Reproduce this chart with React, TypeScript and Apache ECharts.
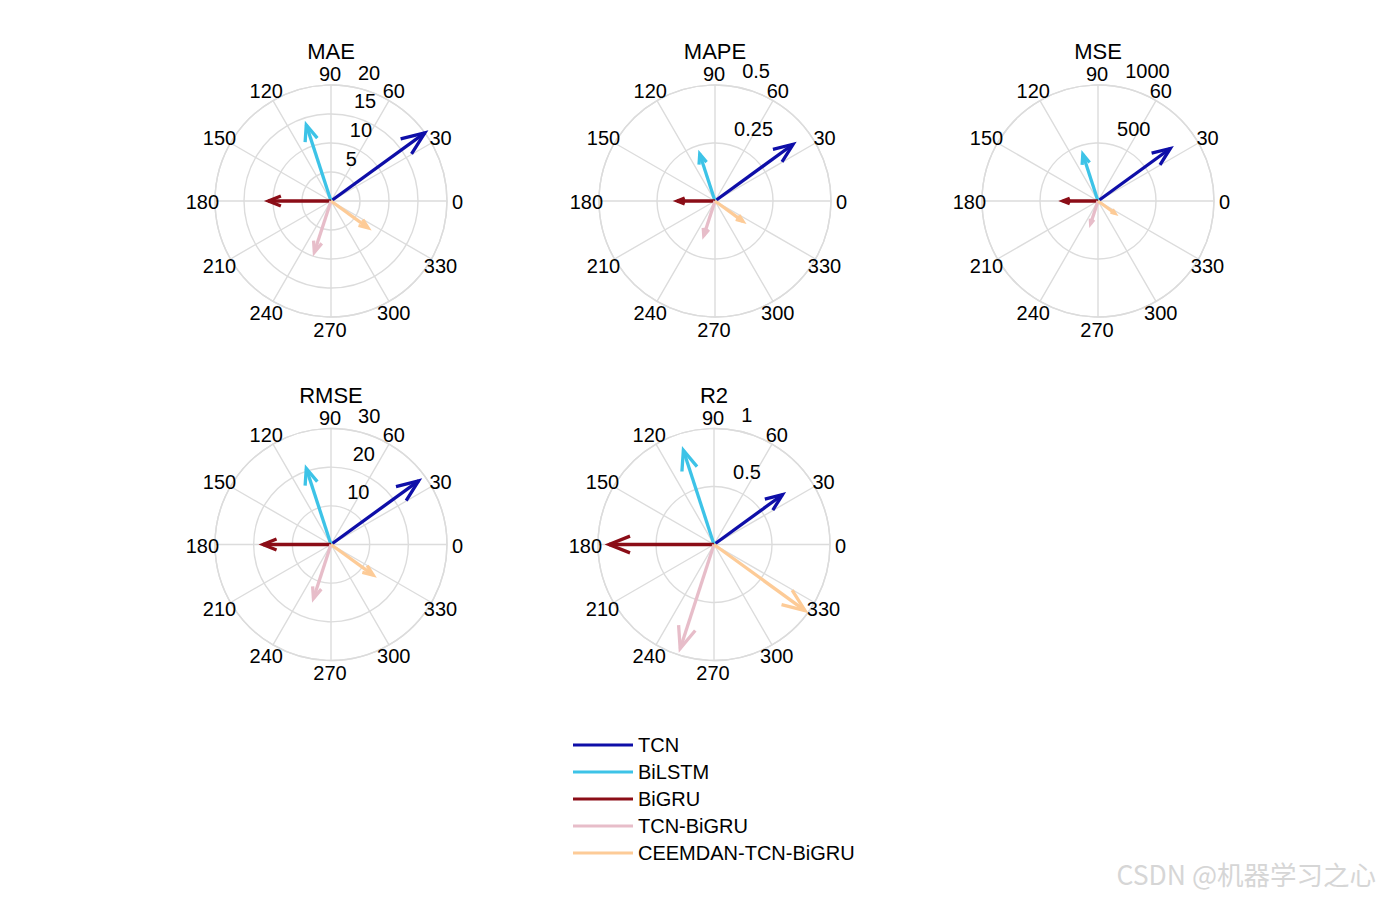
import React, { useEffect, useRef } from 'react';
import * as echarts from 'echarts';

// ---- data ----
const MODELS = ['TCN', 'BiLSTM', 'BiGRU', 'TCN-BiGRU', 'CEEMDAN-TCN-BiGRU'];
const MODEL_COLORS = ['#0e0ea8', '#3dc3e7', '#8b0d17', '#e7bdc9', '#fdcb97'];
const MODEL_ANGLES = [36, 108, 180, 252, 324];

const METRICS = ['MAE', 'MAPE', 'MSE', 'RMSE', 'R2'];
const MAE_VALUES = [20.0, 13.8, 10.8, 9.3, 7.9];
const MAPE_VALUES = [0.416, 0.213, 0.163, 0.157, 0.149];
const MSE_VALUES = [770, 423, 304, 206, 180];
const RMSE_VALUES = [28.0, 20.7, 17.6, 14.7, 13.5];
const R2_VALUES = [0.73, 0.855, 0.905, 0.944, 0.97];

const MAE_TICKS = [5, 10, 15, 20];
const MAPE_TICKS = [0.25, 0.5];
const MSE_TICKS = [500, 1000];
const RMSE_TICKS = [10, 20, 30];
const R2_TICKS = [0.5, 1];
const ANGLE_TICKS = [0, 30, 60, 90, 120, 150, 180, 210, 240, 270, 300, 330];

const METRIC_VALUES = [MAE_VALUES, MAPE_VALUES, MSE_VALUES, RMSE_VALUES, R2_VALUES];
const METRIC_TICKS = [MAE_TICKS, MAPE_TICKS, MSE_TICKS, RMSE_TICKS, R2_TICKS];

// ---- layout ----
const CENTERS = [
  [331, 201],
  [715, 201],
  [1098, 201],
  [331, 544.5],
  [714, 544.5],
];
const RADIUS = 116;
const FONT = '"Liberation Sans", Arial, Helvetica, sans-serif';
const GRID = '#dcdcdc';
const LABEL_SIZE = 20;

function arrowRender(params: any, api: any) {
  const r = api.value(0);
  const a = api.value(1);
  const o = api.coord([0, a]);
  const t = api.coord([r, a]);
  const dx = t[0] - o[0];
  const dy = t[1] - o[1];
  const bx = o[0] + 0.8 * dx;
  const by = o[1] + 0.8 * dy;
  const px = -dy * 0.08;
  const py = dx * 0.08;
  const color = api.visual('color');
  const style = { stroke: color, lineWidth: 3.3, fill: null, lineJoin: 'miter', lineCap: 'butt' };
  return {
    type: 'group',
    children: [
      { type: 'line', shape: { x1: o[0], y1: o[1], x2: t[0], y2: t[1] }, style },
      {
        type: 'polyline',
        shape: { points: [[bx + px, by + py], [t[0], t[1]], [bx - px, by - py]] },
        style,
      },
    ],
  };
}

function buildOption() {
  const polar: any[] = [];
  const angleAxis: any[] = [];
  const radiusAxis: any[] = [];
  const series: any[] = [];
  const graphic: any[] = [];

  METRICS.forEach((metric, i) => {
    const ticks = METRIC_TICKS[i];
    const rmax = ticks[ticks.length - 1];
    const rinc = ticks[0];
    const [cx, cy] = CENTERS[i];
    polar.push({ center: [cx, cy], radius: RADIUS });
    angleAxis.push({
      polarIndex: i,
      type: 'value',
      min: 0,
      max: 360,
      interval: 30,
      startAngle: 0,
      clockwise: false,
      axisLine: { show: true, lineStyle: { color: GRID, width: 1.4 } },
      axisTick: { show: false },
      axisLabel: { show: false },
      splitLine: { show: true, lineStyle: { color: GRID, width: 1.4 } },
    });
    radiusAxis.push({
      polarIndex: i,
      type: 'value',
      min: 0,
      max: rmax,
      interval: rinc,
      axisLine: { show: false },
      axisTick: { show: false },
      axisLabel: { show: false },
      splitLine: { show: true, lineStyle: { color: GRID, width: 1.4 } },
    });

    // angle labels at 1.1 * rmax
    series.push({
      type: 'custom',
      coordinateSystem: 'polar',
      polarIndex: i,
      silent: true,
      data: ANGLE_TICKS.map((a) => [rmax * 1.1, a]),
      renderItem: (params: any, api: any) => {
        const p = api.coord([api.value(0), api.value(1)]);
        return {
          type: 'text',
          x: p[0] - 1,
          y: p[1] + 1,
          style: {
            text: String(api.value(1)),
            fill: '#000',
            fontSize: LABEL_SIZE,
            fontFamily: FONT,
            align: 'center',
            verticalAlign: 'middle',
          },
        };
      },
    });

    // radial labels at 82 degrees
    series.push({
      type: 'custom',
      coordinateSystem: 'polar',
      polarIndex: i,
      silent: true,
      z: 1,
      data: ticks.map((t) => [t, 82]),
      renderItem: (params: any, api: any) => {
        const v = api.value(0);
        const p = api.coord([v + rinc / 20, 82]);
        return {
          type: 'text',
          x: p[0] + 10.6,
          y: p[1] - 2,
          style: {
            text: String(v),
            fill: '#000',
            fontSize: LABEL_SIZE,
            fontFamily: FONT,
            align: 'left',
            verticalAlign: 'bottom',
          },
        };
      },
    });

    MODELS.forEach((m, j) => {
      series.push({
        type: 'custom',
        name: m,
        coordinateSystem: 'polar',
        polarIndex: i,
        z: 5 + j,
        itemStyle: { color: MODEL_COLORS[j] },
        data: [[METRIC_VALUES[i][j], MODEL_ANGLES[j]]],
        renderItem: arrowRender,
      });
    });

    graphic.push({
      type: 'text',
      x: cx,
      y: cy - 149.5,
      style: {
        text: metric,
        fill: '#000',
        fontSize: 22,
        fontFamily: FONT,
        align: 'center',
        verticalAlign: 'middle',
      },
    });
  });

  graphic.push({
    type: 'text',
    right: 4,
    top: 860,
    style: {
      text: 'CSDN @机器学习之心',
      fill: '#d6d6d6',
      fontSize: 26.5,
      fontFamily: '"Noto Sans CJK SC", "Liberation Sans", sans-serif',
    },
  });

  return {
    animation: false,
    backgroundColor: '#ffffff',
    polar,
    angleAxis,
    radiusAxis,
    legend: {
      data: MODELS,
      orient: 'vertical',
      left: 568,
      top: 730,
      itemWidth: 60,
      itemHeight: 3,
      itemGap: 7,
      icon: 'rect',
      selectedMode: false,
      textStyle: { fontSize: LABEL_SIZE, fontFamily: FONT, color: '#000' },
    },
    graphic,
    series,
  };
}

export default function App() {
  const ref = useRef<HTMLDivElement>(null);
  useEffect(() => {
    if (!ref.current) return;
    const chart = echarts.init(ref.current, null, { renderer: 'svg' });
    chart.setOption(buildOption() as any);
    return () => chart.dispose();
  }, []);
  return (
    <div
      ref={ref}
      style={{ position: 'fixed', left: 0, top: 0, width: 1380, height: 900, background: '#fff' }}
    />
  );
}
